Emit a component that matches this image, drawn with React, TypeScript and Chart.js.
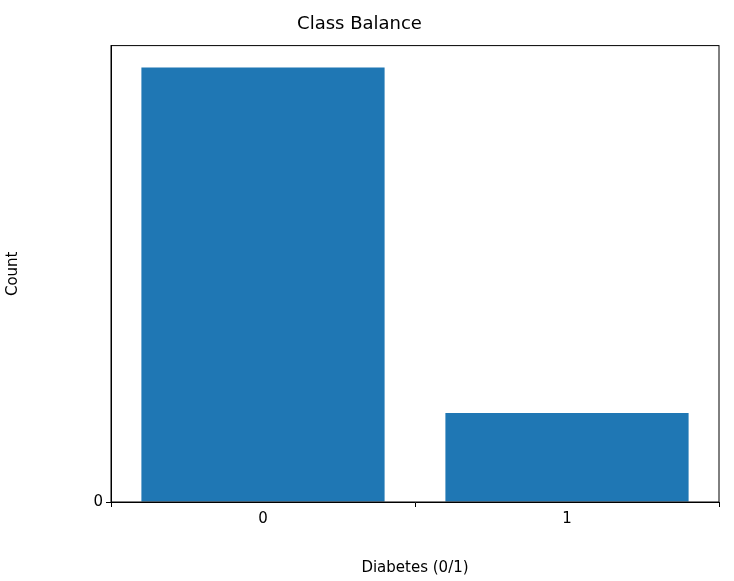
import React, { useRef, useEffect } from 'react';
import { Chart, registerables } from 'chart.js';

Chart.register(...registerables);

const categories = ['0', '1'];
const counts = [3760, 771];

const frame = {
  id: 'frame',
  afterDraw(chart: Chart) {
    const { ctx, chartArea: a } = chart;
    ctx.save();
    ctx.strokeStyle = '#000';
    ctx.lineWidth = 1;
    ctx.strokeRect(a.left, a.top, a.right - a.left, a.bottom - a.top);
    ctx.restore();
  },
};

export default function App() {
  const canvasRef = useRef<HTMLCanvasElement>(null);

  useEffect(() => {
    document.body.style.margin = '0';
    const canvas = canvasRef.current;
    if (!canvas) return;
    const font = { family: 'DejaVu Sans', size: 15 };
    const chart = new Chart(canvas, {
      type: 'bar',
      data: {
        labels: categories,
        datasets: [{ data: counts, backgroundColor: '#1f77b4', barPercentage: 0.8, categoryPercentage: 1 }],
      },
      options: {
        animation: false,
        responsive: true,
        maintainAspectRatio: false,
        layout: { padding: { left: 0, right: 15, top: 0, bottom: 0 } },
        plugins: {
          legend: { display: false },
          tooltip: { enabled: false },
          title: {
            display: true,
            text: 'Class Balance',
            color: '#000',
            font: { family: 'DejaVu Sans', size: 18, weight: 'normal' },
            padding: { top: 14, bottom: 10 },
          },
        },
        scales: {
          x: {
            grid: { drawOnChartArea: false, drawTicks: true, tickLength: 5, color: '#000' },
            border: { display: true, color: '#000' },
            ticks: { color: '#000', font },
            title: { display: true, text: 'Diabetes (0/1)', color: '#000', font, padding: { top: 4 } },
            afterFit: (s: any) => { s.height = 79; },
          },
          y: {
            min: 0,
            max: 3950,
            grid: { drawOnChartArea: false, drawTicks: true, tickLength: 5, color: '#000' },
            border: { display: true, color: '#000' },
            ticks: { stepSize: 500, color: '#000', font },
            afterBuildTicks: (s: any) => { s.ticks = s.ticks.filter((t: any) => t.value % 500 === 0); },
            title: { display: true, text: 'Count', color: '#000', font },
            afterFit: (s: any) => { s.width = 111; },
          },
        },
      },
      plugins: [frame],
    });
    return () => chart.destroy();
  }, []);

  return (
    <div style={{ width: 734, height: 581, position: 'relative' }}>
      <canvas ref={canvasRef} />
    </div>
  );
}
